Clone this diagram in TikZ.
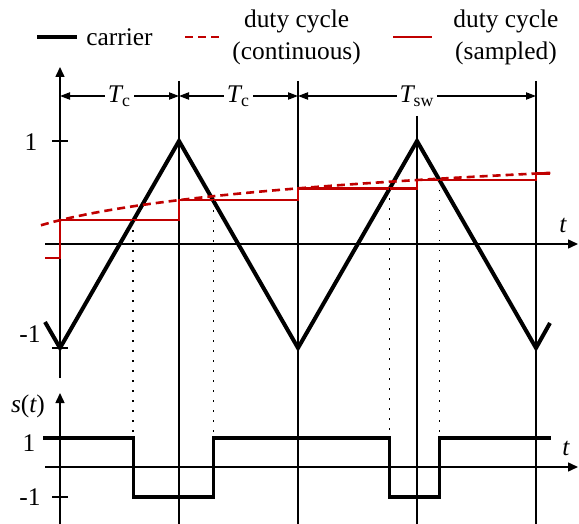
\documentclass[tikz,border=0pt]{standalone}
\usepackage{fontspec}
\setmainfont{Liberation Serif}
\usetikzlibrary{positioning,arrows.meta}
\definecolor{pwmred}{HTML}{C00000}

\begin{document}
\begin{tikzpicture}[x=0.5pt, y=-0.5pt,
  font=\fontsize{12.7}{16}\selectfont,
  axisline/.style={line width=0.75pt, -{Triangle[length=5pt,width=4.5pt]}},
  gridline/.style={line width=0.75pt},
  dim/.style={line width=0.75pt, {Triangle[length=5pt,width=3.6pt]}-{Triangle[length=5pt,width=3.6pt]}},
  carrierline/.style={line width=2pt},
  switchline/.style={line width=1.7pt},
  sampled/.style={draw=pwmred, line width=1.3pt},
  continuous/.style={draw=pwmred, line width=1.3pt, dash pattern=on 4pt off 2.5pt},
  proj/.style={line width=0.75pt, dash pattern=on 0.75pt off 4.25pt},
  tickmark/.style={line width=0.75pt},
  lbl/.style={inner sep=1.5pt, fill=white}
]
\useasboundingbox (0,0) rectangle (579,524);

% legend
\coordinate (kc) at (37,37);
\draw[carrierline] (kc) -- ++(40,0) coordinate (kce);
\node[inner sep=0pt, right=4.5pt of kce] (kct) {carrier};
\coordinate (kd) at (185,37);
\draw[continuous] (kd) -- ++(38,0) coordinate (kde);
\node[inner sep=0pt, align=center, right=4.5pt of kde] (kdt) {duty cycle\\(continuous)};
\coordinate (ks) at (393,37);
\draw[sampled] (ks) -- ++(39,0) coordinate (kse);
\node[inner sep=0pt, align=center, right=10.5pt of kse] (kst) {duty cycle\\(sampled)};

% carrier axes
\draw[axisline] (45,244) -- (578,244);
\node at (563,225) {\itshape t};
\draw[axisline] (60,378) -- (60,67);
\draw[tickmark] (52,141) -- (68,141) (52,348) -- (68,348);
\node at (31,142) {1};
\node at (30,334) {-1};

% period lines
\foreach \x/\y in {179/81, 298/81, 417/116, 536/81}
  \draw[gridline] (\x,\y) -- (\x,524);

\coordinate (p0) at (60,96);
\coordinate (p1) at (179,96);
\coordinate (p2) at (298,96);
\coordinate (p4) at (536,96);
\draw[dim] (p0) -- node[lbl] {{\itshape T}\textsubscript{c}} (p1);
\draw[dim] (p1) -- node[lbl] {{\itshape T}\textsubscript{c}} (p2);
\draw[dim] (p2) -- node[lbl] {{\itshape T}\textsubscript{sw}} (p4);

% carrier and duty cycle
\draw[carrierline] (45,322) -- (60,348) -- (179,141) -- (298,348) -- (417,141) -- (536,348) -- (550,323);
\draw[continuous] plot[domain=-0.16:4.12, samples=60, smooth] ({60+119*\x}, {244-103.5*(0.23+0.28*ln(1+\x))});
\draw[sampled] (45,258) -| (60,220.2) -| (179,200.1) -| (298,188.4) -| (417,180) -| (536,173.6) -- (550,173.6);

% crossings
\foreach \x/\y in {133.2/220.2, 213.3/200.1, 389.5/188.4, 439.7/180}
  \draw[proj] (\x,\y) -- (\x,438);

% switching function
\draw[axisline] (45,467) -- (578,467);
\node at (566,448) {\itshape t};
\draw[axisline] (60,524) -- (60,393);
\node at (28,406) {{\itshape s}({\itshape t})};
\draw[tickmark] (52,497) -- (68,497);
\node at (29,443) {1};
\node at (30,497) {-1};
\draw[switchline] (43,438) -| (133.2,497) -| (213.3,438) -| (389.5,497) -| (439.7,438) -- (551,438);
\end{tikzpicture}
\end{document}
